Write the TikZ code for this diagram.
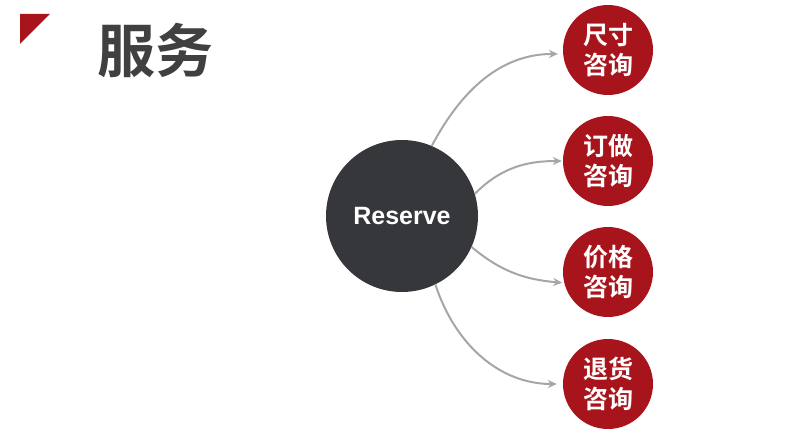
\documentclass[tikz,border=0pt]{standalone}
\usepackage{fontspec}
\setmainfont{Liberation Sans}
\newfontfamily\cjkbold{Noto Sans CJK SC Bold}
\usetikzlibrary{arrows.meta}
\definecolor{brandred}{HTML}{A8141B}
\definecolor{coredark}{HTML}{36373B}
\definecolor{titlegray}{HTML}{404040}
\definecolor{arrowgray}{HTML}{A6A6A6}

\begin{document}
\begin{tikzpicture}[x=1pt,y=-1pt,
		core/.style={circle,fill=coredark,minimum size=152pt,inner sep=0pt,text=white,font=\bfseries\fontsize{25}{28}\selectfont},
		topic/.style={circle,fill=brandred,minimum size=90pt,inner sep=0pt,text=white,align=center,font=\cjkbold\fontsize{25}{30}\selectfont},
		link/.style={draw=arrowgray,line width=2pt,-{Stealth[length=9pt,width=8pt]}}]
		\useasboundingbox (0,0) rectangle (800,433);
		% corner mark and title
		\fill[brandred] (20,14) -- (50,14) -- (20,44) -- cycle;
		\node[text=titlegray,font=\cjkbold\fontsize{58}{60}\selectfont] (title) at (155,50) {服务};
		% centre and topics
		\node[core] (res) at (402,216) {Reserve};
		\node[topic] (q1) at (608,50) {尺寸\\咨询};
		\node[topic] (q2) at (608,161) {订做\\咨询};
		\node[topic] (q3) at (608,272) {价格\\咨询};
		\node[topic] (q4) at (608,384) {退货\\咨询};
		% connectors
		\draw[link,shorten >=5pt] (res.67) to[out=62,in=180] (q1.185);
		\draw[link,shorten >=1pt] (res.17) to[out=45,in=180] (q2.west);
		\draw[link,shorten >=2pt] (res.-24) to[out=-40,in=175] (q3.194);
		\draw[link,shorten >=6pt] (res.-64) to[out=-72,in=180] (q4.west);
\end{tikzpicture}
\end{document}
